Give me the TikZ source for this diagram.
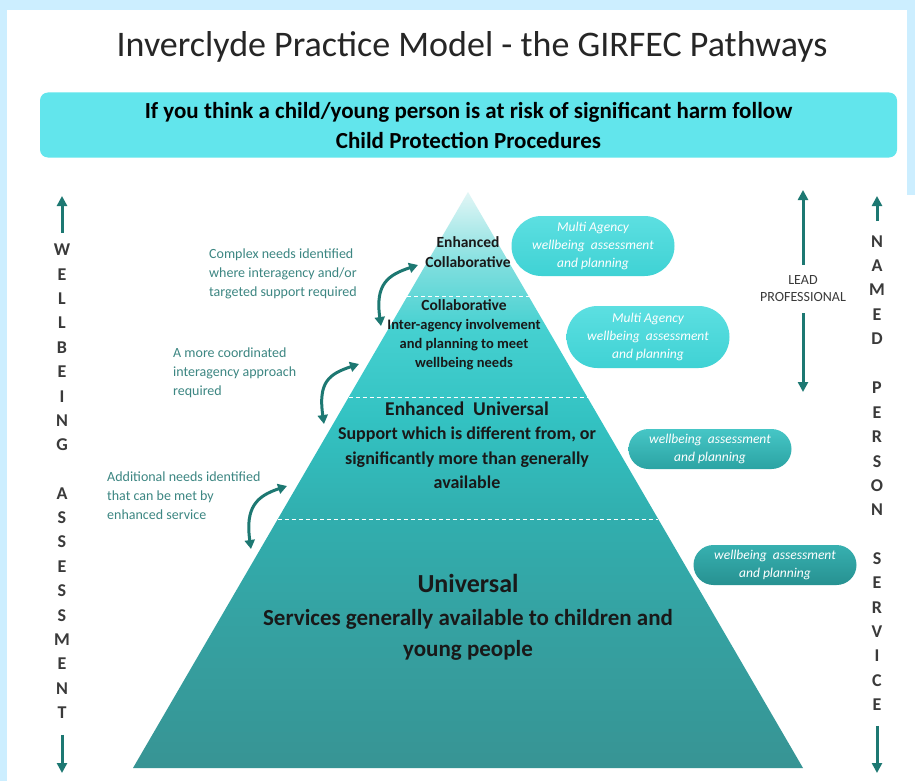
\documentclass[tikz,border=0pt]{standalone}
\usepackage{fontspec}
\setmainfont{Carlito}
\usepackage{xcolor}
\usetikzlibrary{shapes, arrows.meta, positioning, calc}

\definecolor{frameblue}{HTML}{CCEEFF}
\definecolor{bannercyan}{HTML}{62E5EC}
\definecolor{titlegray}{HTML}{262626}
\definecolor{lettergray}{HTML}{3A3A3A}
\definecolor{notetext}{HTML}{3C8682}
\definecolor{arrowteal}{HTML}{1D7872}
\definecolor{pyrA}{HTML}{379494}
\definecolor{pyrB}{HTML}{35A2A2}
\definecolor{pyrC}{HTML}{31AEAE}
\definecolor{pyrD}{HTML}{33C2C2}
\definecolor{pyrE}{HTML}{45D0D0}
\definecolor{pyrF}{HTML}{7ADDDD}
\definecolor{pyrG}{HTML}{E2F6F6}
\definecolor{pillAtop}{HTML}{5CDFE1}
\definecolor{pillAbot}{HTML}{3FD2D4}
\definecolor{pillBtop}{HTML}{46C6C6}
\definecolor{pillBbot}{HTML}{2BA3A3}
\definecolor{pillCtop}{HTML}{37B0B0}
\definecolor{pillCbot}{HTML}{279191}

% pyramid colour runs from teal at the base to pale cyan at the tip
\pgfdeclareverticalshading{pyramidfill}{100bp}{%
  color(0bp)=(pyrA); color(25bp)=(pyrA); color(37.8bp)=(pyrB);
  color(46.5bp)=(pyrC); color(55.2bp)=(pyrD); color(63bp)=(pyrE);
  color(68.2bp)=(pyrF); color(75bp)=(pyrG); color(100bp)=(pyrG)}

\begin{document}
\begin{tikzpicture}[
            x=1pt, y=-1pt,
            pill/.style={rounded rectangle, minimum width=163pt, inner sep=0pt, align=center,
                text=white, font=\itshape\fontsize{13.5}{18}\selectfont},
            tier/.style={align=center, inner sep=0pt, text=black!90},
            note/.style={anchor=west, align=left, inner sep=0pt, text=notetext,
                font=\fontsize{14}{19}\selectfont},
            letters/.style={align=center, inner sep=0pt, text=lettergray,
                font=\bfseries\fontsize{18}{24.4}\selectfont},
            band/.style={white, line width=0.9pt, dash pattern=on 4pt off 3pt},
            pathway/.style={<->, >={Triangle[length=9pt, width=10pt]}, arrowteal, line width=3pt},
            sidearrow/.style={->, >={Triangle[length=10pt, width=10pt]}, arrowteal, line width=3pt}
        ]
        \useasboundingbox (0,0) rectangle (915,781);
        \fill[frameblue] (0,0) rectangle (915,781);
        \fill[white] (7,10) rectangle (915,781);
        \fill[frameblue] (907,0) rectangle (915,195);

        % Heading and warning banner
        \node[font=\fontsize{36}{42}\selectfont, text=titlegray] (title) at (472,47)
            {Inverclyde Practice Model - the GIRFEC Pathways};
        \node[rectangle, rounded corners=8pt, fill=bannercyan, minimum width=857pt, minimum height=65pt,
            align=center, font=\bfseries\fontsize{23}{30}\selectfont] (banner) at (468.5,125)
            {If you think a child/young person is at risk of significant harm follow\\Child Protection Procedures};

        % Pyramid
        \coordinate (apex) at (468,192);
        \coordinate (bl) at (133,768);
        \coordinate (br) at (803,768);
        \shade[shading=pyramidfill] (apex) -- (br) -- (bl) -- cycle;
        \draw[band] ($(apex)!0.182!(bl)$) -- ($(apex)!0.182!(br)$);
        \draw[band] ($(apex)!0.356!(bl)$) -- ($(apex)!0.356!(br)$);
        \draw[band] ($(apex)!0.568!(bl)$) -- ($(apex)!0.568!(br)$);

        % Tiers
        \node[tier, font=\bfseries\fontsize{15.5}{20}\selectfont] (enhcollab) at (468,252) {Enhanced\\Collaborative};
        \node[tier, font=\bfseries\fontsize{14.5}{19}\selectfont] (collab) at (464,335)
            {{\fontsize{15.5}{19}\selectfont Collaborative}\\Inter-agency involvement\\and planning to meet\\wellbeing needs};
        \node[tier, font=\bfseries\fontsize{18}{24.5}\selectfont] (enhuniv) at (467,445)
            {{\fontsize{19.5}{24.5}\selectfont Enhanced~ Universal}\\Support which is different from, or\\significantly more than generally\\available};
        \node[tier, font=\bfseries\fontsize{26}{30}\selectfont] (univ) at (468,583) {Universal};
        \node[tier, font=\bfseries\fontsize{23}{31}\selectfont, below=17pt of univ] (univtext)
            {Services generally available to children and\\young people};

        % Assessment and planning pills
        \node[pill, top color=pillAtop, bottom color=pillAbot, minimum height=60pt] (multi1) at (593,246)
            {Multi Agency\\wellbeing~ assessment\\and planning};
        \node[pill, top color=pillAtop, bottom color=pillAbot, minimum height=62pt] (multi2) at (648,337)
            {Multi Agency\\wellbeing~ assessment\\and planning};
        \node[pill, top color=pillBtop, bottom color=pillBbot, minimum height=40pt] (single1) at (710,449)
            {wellbeing~ assessment\\and planning};
        \node[pill, top color=pillCtop, bottom color=pillCbot, minimum height=40pt] (single2) at (775,565)
            {wellbeing~ assessment\\and planning};

        % Notes on moving between tiers
        \node[note] (needs1) at (209,274) {Complex needs identified\\where interagency and/or\\targeted support required};
        \node[note] (needs2) at (173,373) {A more coordinated\\interagency approach\\required};
        \node[note] (needs3) at (107,496) {Additional needs identified\\that can be met by\\enhanced service};

        \coordinate (step1a) at (381,326);
        \coordinate (step1b) at (418,265);
        \coordinate (step2a) at (324,424);
        \coordinate (step2b) at (359,364);
        \coordinate (step3a) at (251,549);
        \coordinate (step3b) at (287,486);
        \draw[pathway] (step1a) .. controls +(-6,-42) and +(-30,10) .. (step1b);
        \draw[pathway] (step2a) .. controls +(-6,-42) and +(-30,10) .. (step2b);
        \draw[pathway] (step3a) .. controls +(-6,-42) and +(-30,10) .. (step3b);

        % Left column
        \node[letters] (wellbeing) at (62,347.5) {W\\E\\L\\L\\B\\E\\I\\N\\G};
        \node[letters] (assessment) at (62,603) {A\\S\\S\\E\\S\\S\\M\\E\\N\\T};
        \coordinate (wbtop) at (62,196);
        \coordinate (wbbottom) at (62,773);
        \draw[sidearrow] ([yshift=11pt]wellbeing.north) -- (wbtop);
        \draw[sidearrow] ([yshift=-16pt]assessment.south) -- (wbbottom);

        % Right column
        \node[letters] (named) at (877,290) {N\\A\\M\\E\\D};
        \node[letters] (person) at (877,449) {P\\E\\R\\S\\O\\N};
        \node[letters] (service) at (877,631.5) {S\\E\\R\\V\\I\\C\\E};
        \coordinate (nptop) at (877,196);
        \coordinate (npbottom) at (877,773);
        \draw[sidearrow] ([yshift=14pt]named.north) -- (nptop);
        \draw[sidearrow] ([yshift=-15pt]service.south) -- (npbottom);

        % Lead professional
        \node[align=center, inner sep=0pt, text=lettergray, font=\fontsize{14}{17}\selectfont] (lead) at (803,289)
            {LEAD\\PROFESSIONAL};
        \coordinate (leadtop) at (803,190);
        \coordinate (leadbottom) at (803,392);
        \draw[sidearrow] ([yshift=11pt]lead.north) -- (leadtop);
        \draw[sidearrow] ([yshift=-11pt]lead.south) -- (leadbottom);

    \end{tikzpicture}
\end{document}
